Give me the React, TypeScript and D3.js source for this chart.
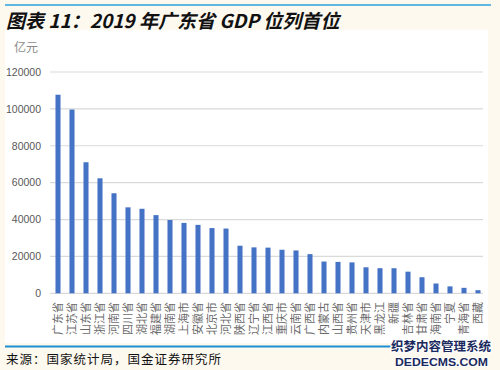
import React from "react";
import * as d3 from "d3";

const provinces = ["广东省","江苏省","山东省","浙江省","河南省","四川省","湖北省","福建省","湖南省","上海市","安徽省","北京市","河北省","陕西省","辽宁省","江西省","重庆市","云南省","广西省","内蒙古","山西省","贵州省","天津市","黑龙江","新疆","吉林省","甘肃省","海南省","宁夏","青海省","西藏"];
const gdp = [107671,99632,71068,62352,54259,46616,45828,42395,39752,38155,37114,35371,35105,25793,24909,24758,23606,23224,21237,17213,17027,16769,14104,13613,13597,11727,8718,5309,3748,2966,1698];
const yTicks = [0,20000,40000,60000,80000,100000,120000];

const W = 500, H = 370;

export default function App() {
  const x = d3.scaleBand<string>().domain(provinces).range([51, 485]).paddingInner(0.64).paddingOuter(0.32);
  const y = d3.scaleLinear().domain([0, 120000]).range([293.3, 72]);
  const sans = "'Liberation Sans', Arial, sans-serif";
  const cjk = "'Noto Sans CJK SC', sans-serif";
  return (
    <svg width={W} height={H} style={{ position: "absolute", left: 0, top: 0 }}>
      <rect x={0} y={0} width={W} height={H} fill="#fdf9ef" />
      <rect x={5} y={30} width={483} height={313} fill="#ffffff" />
      <line x1={5} x2={491} y1={5} y2={5} stroke="#2a9fd8" strokeWidth={1.6} />
      <text x={6} y={28} fontFamily={cjk} fontWeight="bold" fontStyle="italic" fontSize={19} fill="#111">图表 11：2019 年广东省 GDP 位列首位</text>
      <text x={14} y={52} fontFamily={cjk} fontSize={12} fill="#8a8a8a">亿元</text>
      {yTicks.map((t) => (
        <g key={t}>
          <line x1={50} x2={483} y1={y(t)} y2={y(t)} stroke="#d9d9d9" strokeWidth={1.2} />
          <text x={41} y={y(t) + 3.8} textAnchor="end" fontFamily={sans} fontSize={10.5} fill="#595959">{t}</text>
        </g>
      ))}
      {provinces.map((p, i) => (
        <rect key={p} x={x(p)} y={y(gdp[i])} width={x.bandwidth()} height={y(0) - y(gdp[i])} fill="#4472c4" />
      ))}
      {provinces.map((p) => {
        const cx = (x(p) as number) + x.bandwidth() / 2 + 4.2;
        return (
          <text key={p} transform={`translate(${cx},302) rotate(-90)`} textAnchor="end" fontFamily={cjk} fontSize={11} fill="#6a6a6a">{p}</text>
        );
      })}
      <line x1={5} x2={491} y1={346.5} y2={346.5} stroke="#1f8fcf" strokeWidth={1.8} />
      <text x={6} y={364} fontFamily={cjk} fontSize={12.5} letterSpacing={1} fill="#111">来源：国家统计局，国金证券研究所</text>
      <text x={391} y={351} fontFamily={cjk} fontWeight="bold" fontSize={12.5} fill="#1b2a5e" stroke="#ffffff" strokeWidth={2.5} paintOrder="stroke">织梦内容管理系统</text>
      <text x={395} y={366} fontFamily={sans} fontWeight="bold" fontSize={11.5} textLength={93} lengthAdjust="spacingAndGlyphs" fill="#1b2a5e" stroke="#ffffff" strokeWidth={2} paintOrder="stroke">DEDECMS.COM</text>
    </svg>
  );
}
